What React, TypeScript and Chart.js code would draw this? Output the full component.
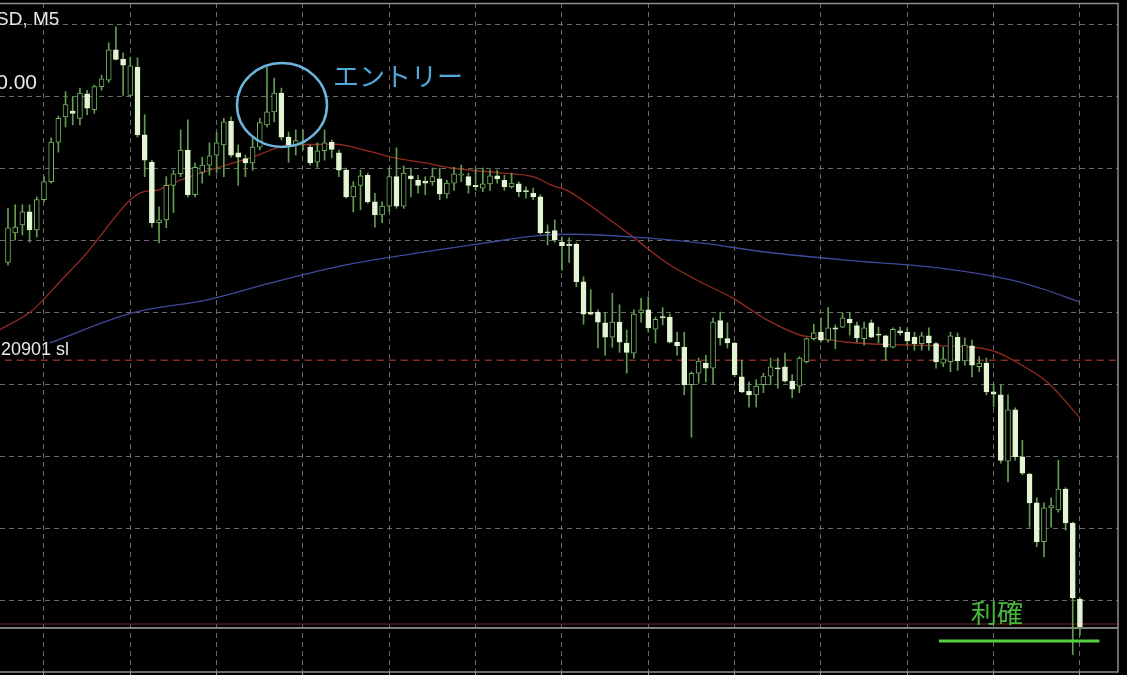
import React, { useEffect, useRef } from "react";
import { Chart, registerables } from "chart.js";

Chart.register(...registerables);

// OHLC in price units (one grid step = 10 units), candle index 0..149
const OPEN = [
  56.9, 61.0, 62.1, 63.9, 61.4, 65.6, 68.1, 73.6, 77.1, 77.9,
  76.9, 80.3, 78.1, 81.3, 82.2, 86.4, 85.1, 80.1, 84.0, 74.6,
  70.8, 62.4, 62.8, 67.6, 69.2, 72.5, 66.3, 69.4, 70.4, 71.8,
  73.2, 76.5, 72.1, 71.3, 70.7, 72.9, 76.0, 77.8, 80.4, 74.3,
  73.2, 73.5, 72.9, 70.8, 72.4, 73.6, 72.1, 69.7, 66.0, 67.6,
  69.0, 65.3, 63.5, 64.7, 68.8, 64.7, 68.9, 68.3, 68.2, 68.1,
  68.5, 66.4, 67.9, 69.0, 68.8, 67.6, 67.2, 67.8, 68.9, 68.3,
  67.4, 67.8, 66.8, 66.5, 66.0, 61.1, 61.3, 59.7, 59.4, 59.4,
  54.2, 50.0, 50.0, 48.5, 46.5, 48.6, 45.7, 44.3, 49.9, 50.3,
  47.6, 49.3, 49.3, 45.8, 45.1, 39.9, 41.5, 42.9, 42.2, 48.8,
  46.3, 45.7, 41.0, 39.0, 38.5, 39.9, 41.1, 42.2, 42.4, 40.4,
  39.7, 43.1, 46.3, 47.2, 46.1, 47.8, 47.9, 49.0, 48.1, 46.3,
  48.5, 46.9, 46.7, 45.1, 47.4, 47.2, 46.5, 45.6, 46.7, 45.6,
  42.9, 43.1, 46.5, 43.2, 45.3, 42.4, 42.9, 38.9, 38.5, 29.3,
  36.4, 29.9, 27.5, 23.5, 18.1, 22.8, 22.5, 25.4, 20.7, 10.1,
];
const HIGH = [
  64.4, 64.9, 64.9, 64.9, 66.0, 68.8, 74.2, 77.2, 80.6, 79.9,
  81.1, 80.8, 81.5, 82.9, 87.4, 89.6, 86.0, 85.4, 85.3, 77.4,
  71.1, 64.6, 68.8, 69.7, 75.3, 76.7, 70.7, 71.5, 73.5, 74.9,
  76.9, 77.1, 73.2, 71.8, 74.2, 76.9, 84.0, 82.5, 81.1, 75.0,
  75.3, 75.3, 73.2, 73.5, 75.3, 73.9, 72.5, 70.0, 68.1, 69.7,
  69.3, 66.5, 65.3, 70.0, 72.8, 70.3, 70.0, 69.0, 68.8, 70.0,
  70.0, 68.3, 70.1, 70.4, 69.3, 70.0, 70.0, 69.7, 69.7, 69.0,
  69.3, 68.1, 67.4, 67.2, 66.3, 62.1, 62.8, 60.4, 60.3, 59.6,
  54.9, 53.1, 50.3, 49.9, 52.6, 51.0, 47.5, 50.3, 51.9, 52.1,
  49.3, 50.6, 49.7, 47.2, 47.2, 41.7, 43.6, 44.0, 49.2, 50.0,
  48.5, 45.8, 43.3, 40.3, 40.6, 41.5, 43.6, 43.6, 44.3, 41.3,
  43.8, 46.4, 48.3, 49.2, 50.6, 48.2, 49.9, 49.9, 48.6, 48.6,
  48.9, 47.9, 46.8, 47.8, 47.9, 47.8, 47.2, 47.2, 47.8, 45.8,
  45.1, 47.2, 47.1, 46.4, 46.1, 43.8, 43.6, 39.9, 39.9, 38.5,
  36.7, 32.2, 27.6, 24.2, 23.5, 24.2, 29.4, 25.6, 20.8, 10.3,
];
const LOW = [
  56.5, 60.0, 60.7, 59.7, 60.4, 65.3, 67.9, 72.2, 75.7, 76.0,
  76.0, 77.4, 77.6, 80.8, 81.9, 85.0, 80.1, 80.0, 74.3, 68.8,
  61.8, 59.6, 61.7, 63.8, 68.8, 66.0, 66.0, 67.9, 69.0, 69.3,
  68.8, 71.5, 67.6, 68.8, 69.7, 72.5, 75.7, 76.4, 73.9, 70.8,
  71.8, 72.5, 70.4, 70.1, 71.1, 71.4, 68.8, 65.8, 63.9, 64.2,
  65.1, 61.8, 62.4, 63.9, 64.4, 64.4, 66.0, 66.5, 66.3, 67.6,
  65.6, 65.8, 66.9, 68.1, 66.5, 66.9, 66.7, 66.9, 67.9, 66.9,
  67.2, 66.0, 65.8, 65.6, 60.8, 59.3, 59.7, 55.8, 56.9, 53.5,
  48.3, 49.6, 45.0, 44.0, 45.1, 44.4, 41.5, 43.6, 48.6, 47.2,
  45.7, 48.2, 45.7, 44.0, 38.5, 32.6, 40.1, 40.3, 39.9, 45.4,
  45.0, 41.0, 38.8, 36.8, 36.8, 38.8, 39.9, 39.4, 40.3, 38.1,
  38.8, 42.9, 46.1, 45.8, 45.8, 44.9, 47.8, 46.8, 45.8, 45.4,
  46.4, 45.7, 43.3, 45.0, 46.8, 45.4, 44.7, 44.7, 44.7, 42.2,
  42.4, 41.7, 41.9, 42.6, 41.0, 41.7, 38.5, 36.8, 29.0, 26.4,
  29.4, 27.4, 20.1, 17.4, 16.0, 20.1, 22.2, 19.7, 2.4, 5.1,
];
const CLOSE = [
  61.7, 61.8, 63.9, 61.4, 65.6, 68.1, 73.6, 76.9, 78.8, 77.6,
  80.4, 78.3, 81.3, 82.4, 86.4, 85.1, 84.3, 84.2, 74.6, 71.1,
  62.4, 62.8, 67.6, 69.2, 72.5, 66.3, 70.1, 70.4, 71.7, 73.5,
  76.4, 71.8, 71.5, 70.7, 72.9, 76.3, 77.8, 80.4, 74.3, 73.2,
  73.8, 73.6, 70.7, 72.4, 73.5, 72.6, 69.7, 66.0, 67.5, 68.9,
  65.3, 63.5, 64.7, 68.8, 64.7, 69.3, 68.5, 67.6, 67.9, 68.8,
  66.4, 67.9, 69.2, 69.2, 67.6, 67.4, 67.8, 68.9, 68.5, 67.4,
  67.9, 66.7, 66.7, 66.0, 61.0, 61.0, 60.0, 59.2, 59.2, 54.2,
  49.7, 49.7, 48.6, 46.5, 48.6, 45.8, 44.4, 49.7, 50.3, 47.8,
  49.0, 49.2, 45.8, 45.3, 39.9, 41.5, 43.2, 42.2, 48.6, 46.4,
  45.7, 41.3, 38.9, 38.5, 39.7, 41.1, 42.4, 42.1, 40.4, 39.3,
  43.6, 46.3, 47.1, 46.1, 47.8, 47.6, 49.2, 48.5, 46.4, 47.8,
  46.5, 46.8, 45.1, 47.6, 47.1, 46.0, 45.6, 46.7, 45.7, 43.1,
  43.5, 46.7, 43.2, 45.4, 42.6, 42.9, 38.9, 38.6, 29.4, 36.4,
  29.9, 27.6, 23.5, 18.1, 22.8, 23.1, 25.4, 20.7, 10.3, 6.3,
];

// moving averages (candle index, price)
const RED_MA_X = [-1.2, 3.1, 4.9, 7.2, 10.7, 12.4, 17, 18.8, 20.7, 22.9, 26.7, 31.3, 34, 37.4, 39.2, 45.5, 49.6, 53.8, 58, 61.7, 68.7, 73, 75.6, 77.7, 82.3, 86.9, 91.6, 96.2, 100.8, 105.5, 110.1, 111.9, 116.6, 125.8, 135.1, 137.5, 139.7, 144.4, 149];
const RED_MA_Y = [47.5, 50.0, 51.7, 54.2, 57.9, 60.0, 65.6, 66.7, 66.9, 67.9, 69.3, 70.7, 71.5, 72.8, 73.2, 73.3, 72.5, 71.4, 70.7, 70.0, 69.3, 68.8, 67.6, 66.9, 63.8, 60.4, 56.8, 54.2, 51.9, 48.9, 46.8, 46.5, 45.8, 45.4, 45.0, 44.4, 43.3, 40.3, 35.3];
const BLUE_MA_X = [5.8, 17.4, 27.7, 36.4, 46.8, 57, 66.3, 73.7, 78.8, 86.9, 96.2, 105.5, 117.7, 129.6, 139.7, 143.5, 149];
const BLUE_MA_Y = [45.7, 49.9, 51.7, 54.0, 56.5, 58.2, 59.6, 60.6, 60.8, 60.4, 59.6, 58.3, 57.1, 56.1, 54.4, 53.3, 51.4];

// horizontal levels
const SL_LEVEL = 43.3;
const RED_LEVEL = 6.67;
const GRAY_LEVEL = 6.11;
const TP_MARK_X = [129.4, 151.7];
const TP_MARK_Y = 4.3;

// grid ticks
const GRID_X = [5, 17, 29, 41, 53, 65, 77, 89, 101, 113, 125, 137, 149];
const GRID_Y = [10, 20, 30, 40, 50, 60, 70, 80, 90];
const X_RANGE = [-1.112, 154.29];
const Y_RANGE = [0, 92.92];

const WICK = "#5f9f4f";
const BULL_EDGE = "#74b262";
const BEAR_FILL = "#e3f5d3";
const GRID = "#6a6a6a";

export default function App() {
  const ref = useRef<HTMLCanvasElement | null>(null);

  useEffect(() => {
    document.body.style.margin = "0";
    document.body.style.background = "#000";
    const canvas = ref.current;
    if (!canvas) return;

    const idx = OPEN.map((_, i) => i);
    const isBull = (i: number) => CLOSE[i] > OPEN[i];
    const wicks = idx.map((i) => ({ x: i, y: [LOW[i], HIGH[i]] }));
    const bodies = idx.map((i) => {
      const lo = Math.min(OPEN[i], CLOSE[i]);
      const hi = Math.max(OPEN[i], CLOSE[i]);
      return { x: i, y: [lo, Math.max(hi, lo + 0.15)] };
    });
    const xEnds = [X_RANGE[0] - 1, X_RANGE[1] + 1];

    const overlay = {
      id: "overlay",
      beforeDraw(c: any) {
        const ctx = c.ctx;
        ctx.save();
        ctx.fillStyle = "#000";
        ctx.fillRect(0, 0, c.width, c.height);
        ctx.restore();
      },
      afterDraw(c: any) {
        const ctx = c.ctx;
        const a = c.chartArea;
        ctx.save();
        // frame
        ctx.strokeStyle = "#8d8d8d";
        ctx.lineWidth = 1.5;
        ctx.beginPath();
        ctx.moveTo(0, a.top + 0.5);
        ctx.lineTo(a.right, a.top + 0.5);
        ctx.lineTo(a.right, a.bottom);
        ctx.lineTo(0, a.bottom);
        ctx.stroke();

        // labels
        ctx.fillStyle = "#e8e8e8";
        ctx.textBaseline = "alphabetic";
        ctx.textAlign = "left";
        ctx.font = '19px "Liberation Sans"';
        ctx.fillText("SD, M5", -4, 25);
        ctx.textAlign = "right";
        ctx.font = '21px "Liberation Sans"';
        ctx.fillText("0.00", 37, 89);
        ctx.textAlign = "left";
        ctx.font = '18px "Liberation Sans"';
        ctx.fillText("20901 sl", 1, 355);

        // entry annotation
        ctx.strokeStyle = "#6db5de";
        ctx.lineWidth = 2.5;
        ctx.beginPath();
        ctx.ellipse(282, 105, 45, 42, 0, 0, Math.PI * 2);
        ctx.stroke();
        ctx.fillStyle = "#4fa9da";
        ctx.textBaseline = "middle";
        ctx.font = '26px "Noto Sans CJK JP"';
        ctx.fillText("エントリー", 333, 76);

        // take profit label
        ctx.fillStyle = "#46b83a";
        ctx.font = '26px "Noto Sans CJK JP"';
        ctx.fillText("利確", 971, 613);
        ctx.restore();
      },
    };

    const chart = new Chart(canvas, {
      type: "bar",
      data: {
        datasets: [
          {
            type: "line",
            data: xEnds.map((x) => ({ x, y: SL_LEVEL })),
            borderColor: "#8a2a26",
            borderWidth: 1.3,
            borderDash: [7, 5],
            pointRadius: 0,
            order: 7,
          } as any,
          {
            type: "line",
            data: xEnds.map((x) => ({ x, y: GRAY_LEVEL })),
            borderColor: "#7e7e7e",
            borderWidth: 1.8,
            pointRadius: 0,
            order: 7,
          } as any,
          {
            type: "line",
            data: xEnds.map((x) => ({ x, y: RED_LEVEL })),
            borderColor: "#7a2424",
            borderWidth: 1.2,
            pointRadius: 0,
            order: 7,
          } as any,
          {
            type: "line",
            data: BLUE_MA_X.map((x, i) => ({ x, y: BLUE_MA_Y[i] })),
            borderColor: "#3f4a9c",
            borderWidth: 1.3,
            pointRadius: 0,
            cubicInterpolationMode: "monotone",
            order: 6,
          } as any,
          {
            type: "line",
            data: RED_MA_X.map((x, i) => ({ x, y: RED_MA_Y[i] })),
            borderColor: "#962a22",
            borderWidth: 1.3,
            pointRadius: 0,
            cubicInterpolationMode: "monotone",
            order: 6,
          } as any,
          {
            type: "bar",
            data: wicks,
            backgroundColor: WICK,
            borderWidth: 0,
            barThickness: 1,
            grouped: false,
            order: 5,
          } as any,
          {
            type: "bar",
            data: bodies,
            backgroundColor: (ctx: any) => (isBull(ctx.dataIndex) ? "#000" : BEAR_FILL),
            borderColor: (ctx: any) => (isBull(ctx.dataIndex) ? BULL_EDGE : BEAR_FILL),
            borderWidth: 1,
            borderSkipped: false,
            barThickness: 5,
            grouped: false,
            order: 4,
          } as any,
          {
            type: "line",
            data: TP_MARK_X.map((x) => ({ x, y: TP_MARK_Y })),
            borderColor: "#55cf3c",
            borderWidth: 3,
            pointRadius: 0,
            order: 1,
          } as any,
        ],
      },
      options: {
        animation: false,
        responsive: false,
        devicePixelRatio: 1,
        layout: { padding: { left: 0, right: 9, top: 3, bottom: 0 } },
        plugins: { legend: { display: false }, tooltip: { enabled: false } },
        scales: {
          x: {
            type: "linear",
            min: X_RANGE[0],
            max: X_RANGE[1],
            offset: false,
            afterBuildTicks: (s: any) => {
              s.ticks = GRID_X.map((value) => ({ value }));
            },
            ticks: { display: false },
            grid: {
              color: GRID,
              lineWidth: 1,
              drawTicks: true,
              tickLength: 3,
              tickColor: "#9a9a9a",
              offset: false,
            },
            border: { display: false, dash: [5, 4] },
          },
          y: {
            type: "linear",
            min: Y_RANGE[0],
            max: Y_RANGE[1],
            afterBuildTicks: (s: any) => {
              s.ticks = GRID_Y.map((value) => ({ value }));
            },
            ticks: { display: false },
            grid: { color: GRID, lineWidth: 1, drawTicks: false },
            border: { display: false, dash: [5, 4] },
          },
        },
      } as any,
      plugins: [overlay],
    });

    return () => chart.destroy();
  }, []);

  return (
    <canvas
      ref={ref}
      width={1127}
      height={675}
      style={{ display: "block", width: 1127, height: 675 }}
    />
  );
}
